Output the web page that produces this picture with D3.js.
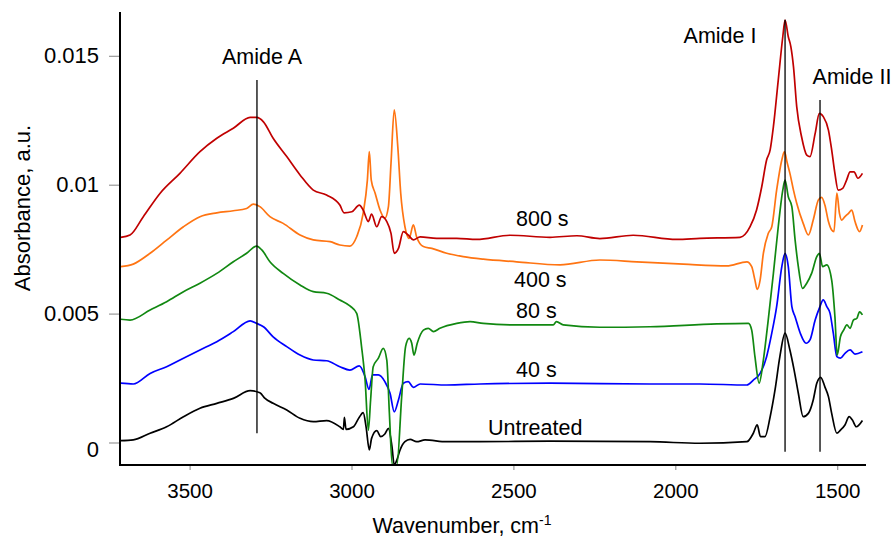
<!DOCTYPE html>
<html><head><meta charset="utf-8">
<script src="https://cdn.jsdelivr.net/npm/d3@7"></script>
<style>body{margin:0;background:#fff}svg{display:block}text{font-family:"Liberation Sans",Arial,sans-serif;fill:#000}</style>
</head><body><div id="chart"></div>
<script>
// Wavenumber (cm-1), absorbance (a.u.) pairs
const untreated = [[3713,0.00007],[3674,0.00010],[3622,0.00036],[3571,0.00061],[3519,0.00100],[3468,0.00133],[3416,0.00152],[3365,0.00171],[3313,0.00201],[3283,0.00193],[3267,0.00171],[3242,0.00152],[3200,0.00126],[3159,0.00094],[3118,0.00081],[3077,0.00085],[3036,0.00061],[3025,0.00051],[3022,0.00098],[3017,0.00051],[2994,0.00061],[2976,0.00098],[2964,0.00116],[2955,0.00061],[2945,-0.00029],[2938,0.00016],[2922,0.00046],[2910,0.00023],[2897,0.00033],[2886,0.00055],[2875,-0.00016],[2868,-0.00087],[2860,-0.00068],[2850,-0.00029],[2835,0.00003],[2819,0.00012],[2799,0.00003],[2773,0.00010],[2706,0.00003],[2603,0.00003],[2387,0.00005],[2078,0.00003],[1924,-0.00003],[1779,0.00003],[1759,0.00036],[1747,0.00068],[1737,0.00023],[1723,0.00023],[1707,0.00100],[1692,0.00204],[1677,0.00333],[1661,0.00424],[1646,0.00359],[1633,0.00281],[1620,0.00191],[1605,0.00100],[1589,0.00113],[1574,0.00165],[1563,0.00230],[1551,0.00253],[1538,0.00216],[1527,0.00178],[1517,0.00113],[1501,0.00036],[1490,0.00048],[1476,0.00068],[1463,0.00100],[1453,0.00087],[1441,0.00061],[1422,0.00085]];
const s40 = [[3713,0.00230],[3674,0.00227],[3622,0.00268],[3571,0.00294],[3519,0.00327],[3468,0.00359],[3416,0.00391],[3365,0.00430],[3313,0.00472],[3293,0.00462],[3272,0.00449],[3242,0.00410],[3200,0.00372],[3159,0.00339],[3118,0.00320],[3077,0.00317],[3036,0.00294],[3005,0.00281],[2976,0.00297],[2958,0.00255],[2946,0.00206],[2935,0.00262],[2917,0.00262],[2897,0.00236],[2881,0.00191],[2868,0.00119],[2855,0.00165],[2840,0.00230],[2825,0.00236],[2809,0.00214],[2788,0.00227],[2706,0.00223],[2603,0.00227],[2387,0.00230],[2078,0.00227],[1924,0.00227],[1779,0.00223],[1759,0.00242],[1738,0.00268],[1718,0.00333],[1702,0.00424],[1687,0.00527],[1671,0.00682],[1661,0.00734],[1651,0.00682],[1640,0.00527],[1630,0.00488],[1614,0.00424],[1596,0.00385],[1584,0.00398],[1568,0.00475],[1555,0.00521],[1543,0.00553],[1532,0.00527],[1522,0.00501],[1512,0.00424],[1501,0.00333],[1490,0.00327],[1476,0.00346],[1460,0.00359],[1445,0.00343],[1422,0.00352]];
const s80 = [[3713,0.00478],[3684,0.00475],[3622,0.00514],[3571,0.00546],[3519,0.00585],[3468,0.00618],[3416,0.00656],[3365,0.00701],[3324,0.00734],[3293,0.00762],[3277,0.00747],[3252,0.00701],[3211,0.00656],[3159,0.00611],[3118,0.00585],[3077,0.00579],[3036,0.00553],[3005,0.00530],[2984,0.00501],[2969,0.00372],[2958,0.00242],[2948,0.00048],[2941,0.00165],[2933,0.00294],[2917,0.00327],[2902,0.00365],[2891,0.00320],[2883,0.00113],[2874,-0.00087],[2860,-0.00087],[2845,0.00178],[2833,0.00372],[2822,0.00404],[2814,0.00385],[2807,0.00339],[2797,0.00385],[2778,0.00436],[2763,0.00443],[2747,0.00430],[2727,0.00443],[2675,0.00462],[2634,0.00469],[2593,0.00462],[2490,0.00456],[2377,0.00456],[2367,0.00469],[2346,0.00456],[2233,0.00447],[2078,0.00449],[1872,0.00460],[1774,0.00462],[1764,0.00436],[1754,0.00333],[1741,0.00230],[1728,0.00320],[1713,0.00475],[1697,0.00656],[1682,0.00837],[1668,0.00979],[1661,0.01018],[1651,0.00953],[1640,0.00915],[1630,0.00786],[1620,0.00682],[1607,0.00598],[1594,0.00618],[1579,0.00656],[1563,0.00721],[1555,0.00734],[1545,0.00682],[1532,0.00689],[1517,0.00630],[1507,0.00488],[1500,0.00339],[1490,0.00410],[1480,0.00436],[1470,0.00456],[1460,0.00443],[1450,0.00475],[1439,0.00482],[1431,0.00507],[1422,0.00495]];
const s400 = [[3713,0.00682],[3674,0.00692],[3622,0.00734],[3571,0.00785],[3519,0.00837],[3468,0.00876],[3416,0.00891],[3365,0.00899],[3324,0.00908],[3303,0.00925],[3283,0.00915],[3252,0.00876],[3211,0.00850],[3159,0.00805],[3118,0.00786],[3066,0.00779],[3036,0.00766],[3005,0.00762],[2984,0.00798],[2964,0.00889],[2951,0.01018],[2945,0.01128],[2939,0.01018],[2927,0.00967],[2912,0.00902],[2897,0.00870],[2886,0.00915],[2878,0.01083],[2868,0.01290],[2857,0.01147],[2848,0.00967],[2835,0.00837],[2822,0.00792],[2809,0.00844],[2799,0.00798],[2778,0.00760],[2752,0.00753],[2706,0.00734],[2655,0.00721],[2593,0.00711],[2490,0.00701],[2356,0.00689],[2233,0.00708],[2119,0.00701],[1975,0.00692],[1841,0.00685],[1779,0.00701],[1764,0.00682],[1754,0.00630],[1747,0.00594],[1738,0.00630],[1728,0.00734],[1713,0.00811],[1702,0.00837],[1687,0.00979],[1671,0.01096],[1663,0.01128],[1654,0.01083],[1646,0.01044],[1635,0.00979],[1625,0.00928],[1605,0.00850],[1589,0.00805],[1574,0.00863],[1558,0.00941],[1548,0.00951],[1538,0.00921],[1527,0.00857],[1517,0.00824],[1510,0.00818],[1501,0.00967],[1493,0.00889],[1486,0.00863],[1476,0.00876],[1465,0.00889],[1455,0.00902],[1445,0.00857],[1431,0.00818],[1422,0.00844]];
const s800 = [[3713,0.00796],[3684,0.00805],[3643,0.00876],[3591,0.00967],[3530,0.01044],[3468,0.01128],[3416,0.01180],[3365,0.01219],[3313,0.01261],[3293,0.01261],[3272,0.01244],[3242,0.01180],[3200,0.01109],[3159,0.01038],[3118,0.00979],[3077,0.00960],[3036,0.00921],[3023,0.00891],[2999,0.00895],[2976,0.00921],[2964,0.00902],[2948,0.00857],[2938,0.00886],[2922,0.00837],[2907,0.00876],[2891,0.00857],[2878,0.00811],[2868,0.00734],[2855,0.00753],[2840,0.00818],[2825,0.00805],[2809,0.00786],[2788,0.00798],[2737,0.00792],[2675,0.00792],[2613,0.00788],[2511,0.00804],[2387,0.00796],[2304,0.00802],[2233,0.00791],[2130,0.00804],[1996,0.00788],[1924,0.00792],[1800,0.00796],[1769,0.00837],[1749,0.00902],[1733,0.00992],[1718,0.01096],[1707,0.01135],[1697,0.01225],[1682,0.01406],[1668,0.01574],[1661,0.01639],[1651,0.01574],[1643,0.01535],[1635,0.01458],[1625,0.01303],[1610,0.01186],[1594,0.01115],[1584,0.01109],[1568,0.01199],[1555,0.01277],[1543,0.01264],[1527,0.01212],[1517,0.01135],[1507,0.01044],[1497,0.00979],[1483,0.00986],[1471,0.01018],[1460,0.01050],[1448,0.01050],[1436,0.01025],[1422,0.01044]];

const seriesNames = ["Untreated","40 s","80 s","400 s","800 s"];
const seriesData = [untreated, s40, s80, s400, s800];
const seriesColors = ["#000000","#0000ff","#118811","#ff7412","#c00000"];
const xTicks = [3500, 3000, 2500, 2000, 1500];
const yTicks = [0, 0.005, 0.01, 0.015];
const yTickLabels = ["0","0.005","0.01","0.015"];
const amideNames = ["Amide A","Amide I","Amide II"];
const amideWn = [3292, 1661, 1553];
const amideTop = [0.01406, 0.01640, 0.01329];
const amideBottom = [0.00036, -0.00036, -0.00036];

const W = 894, H = 541;
const x = d3.scaleLinear().domain([3715, 1411]).range([120, 866]);
const y = d3.scaleLinear().domain([-0.000873, 0.0167]).range([465, 12]);

const svg = d3.select("#chart").append("svg").attr("width", W).attr("height", H);
svg.append("defs").append("clipPath").attr("id","clip")
  .append("rect").attr("x",120).attr("y",0).attr("width",760).attr("height",465);

const line = d3.line().x(d => x(d[0])).y(d => y(d[1])).curve(d3.curveMonotoneX);
const plot = svg.append("g").attr("clip-path","url(#clip)");
seriesData.forEach((s, i) => {
  plot.append("path").datum(s.slice().sort((a,b)=>a[0]-b[0]))
    .attr("d", line).attr("fill","none")
    .attr("stroke", seriesColors[i]).attr("stroke-width",1.7).attr("stroke-linejoin","round");
});

// amide marker lines
amideWn.forEach((w, i) => {
  svg.append("line").attr("x1", x(w)).attr("x2", x(w))
    .attr("y1", y(amideTop[i])).attr("y2", y(amideBottom[i]))
    .attr("stroke","#000").attr("stroke-width",1.3);
});

// axes
const xAxis = svg.append("g").attr("transform","translate(0,465)")
  .call(d3.axisBottom(x).tickValues(xTicks).tickSize(5).tickPadding(13).tickFormat(d3.format("d")));
const yAxis = svg.append("g").attr("transform","translate(120,0)")
  .call(d3.axisLeft(y).tickValues(yTicks).tickSize(11).tickPadding(10).tickFormat((d,i)=>yTickLabels[i]));
[xAxis, yAxis].forEach(g => {
  g.select(".domain").remove();
  g.selectAll(".tick line").attr("stroke","#999").attr("stroke-width",1.2);
  g.selectAll(".tick text").attr("font-family","Liberation Sans, Arial, sans-serif").attr("fill","#000");
});
xAxis.selectAll(".tick text").attr("font-size",20.5);
yAxis.selectAll(".tick text").attr("font-size",22);
yAxis.selectAll(".tick").filter(d => d === 0).select("text").attr("dy","0.62em");
svg.append("line").attr("x1",120).attr("x2",120).attr("y1",12).attr("y2",465).attr("stroke","#000").attr("stroke-width",2);
svg.append("line").attr("x1",119).attr("x2",866).attr("y1",465).attr("y2",465).attr("stroke","#000").attr("stroke-width",2);

// axis titles
const xt = svg.append("text").attr("x",462).attr("y",533).attr("text-anchor","middle").attr("font-size",21.5);
xt.append("tspan").text("Wavenumber, cm");
xt.append("tspan").attr("font-size",14).attr("dy",-8).text("-1");
svg.append("text").attr("transform","translate(30,208) rotate(-90)").attr("text-anchor","middle")
  .attr("font-size",22).text("Absorbance, a.u.");

// annotations
const ann = [
  {t: amideNames[0], x: 262, y: 64, a: "middle"},
  {t: amideNames[1], x: 720, y: 43, a: "middle"},
  {t: amideNames[2], x: 852, y: 84, a: "middle"},
  {t: seriesNames[4], x: 516, y: 226, a: "start"},
  {t: seriesNames[3], x: 514, y: 287, a: "start"},
  {t: seriesNames[2], x: 516, y: 318, a: "start"},
  {t: seriesNames[1], x: 516, y: 377, a: "start"},
  {t: seriesNames[0], x: 488, y: 435, a: "start"}
];
ann.forEach(d => svg.append("text").attr("x", d.x).attr("y", d.y).attr("text-anchor", d.a)
  .attr("font-size", 21.5).text(d.t));
</script></body></html>
